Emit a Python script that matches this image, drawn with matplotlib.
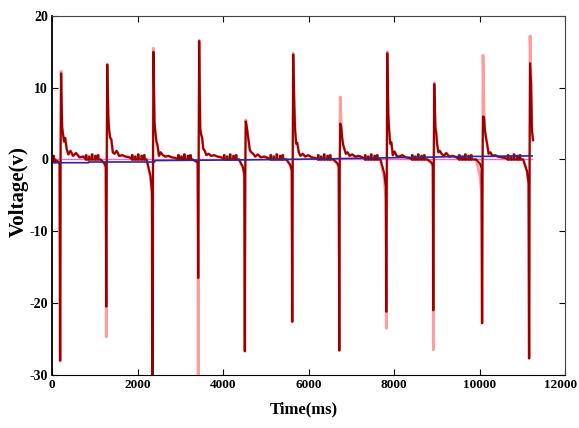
import numpy as np
import matplotlib.pyplot as plt
import matplotlib.transforms as mtrans

plt.rcParams['font.family'] = ['Liberation Serif', 'DejaVu Serif']
plt.rcParams['axes.unicode_minus'] = False  # 눈금에 '-' 사용

# 각 박동(spike) 시각 (ms)
beat_t = [210, 1290, 2370, 3440, 4530, 5640, 6740, 7840, 8940, 10080, 11180]

# 진한 빨강 신호
peak_dark = [12.0, 13.2, 15.0, 16.5, 5.3, 14.6, 5.0, 14.8, 10.5, 6.0, 13.4]
trough_dark = [-28.0, -20.5, -31.0, -16.5, -26.7, -22.6, -26.6, -21.2, -21.0, -22.8, -27.7]
droop_dark = [-0.6, -1.0, -4.5, -0.5, -2.0, -1.5, -1.0, -3.8, -0.8, -1.2, -3.3]

# 연한 분홍 신호
peak_pink = [12.3, 13.3, 15.5, 16.6, 5.5, 14.8, 8.7, 15.0, 10.7, 14.5, 17.2]
trough_pink = [-28.1, -24.7, -31.0, -31.0, -26.7, -22.6, -26.6, -23.5, -26.5, -22.8, -27.7]
droop_pink = [-0.6, -1.2, -5.0, -0.6, -2.2, -1.6, -1.2, -5.5, -1.0, -4.7, -3.5]

# 피크 이후 감쇠 (피크 기준 시간 오프셋 ms)
decay_dt = [25, 45, 70, 95, 130, 170, 220, 280, 350, 430, 520]
decay_v = [
    [4.5, 3.5, 2.5, 3.0, 1.5, 0.7, 1.2, 0.5, 0.9, 0.3, 0.4],
    [6.0, 4.0, 3.0, 2.8, 1.0, 0.8, 1.2, 0.5, 0.6, 0.4, 0.3],
    [5.3, 3.8, 2.5, 2.0, 0.5, 1.0, 0.6, 0.4, 0.5, 0.3, 0.2],
    [4.4, 3.5, 3.0, 1.5, 1.2, 0.6, 0.8, 0.5, 0.6, 0.4, 0.3],
    [4.5, 3.6, 2.5, 1.3, 1.0, 0.8, 0.4, 0.7, 0.3, 0.4, 0.2],
    [7.8, 4.0, 2.2, 2.3, 1.0, 0.5, 0.8, 0.4, 0.6, 0.3, 0.2],
    [4.5, 3.0, 2.0, 1.5, 0.8, 1.0, 0.5, 0.7, 0.4, 0.5, 0.3],
    [6.2, 4.0, 2.2, 2.4, 0.6, 1.1, 0.5, 0.4, 0.6, 0.3, 0.2],
    [4.5, 3.7, 2.0, 1.0, 1.2, 0.8, 0.5, 0.9, 0.4, 0.5, 0.3],
    [5.9, 4.0, 3.0, 2.2, 0.8, 1.0, 0.5, 0.6, 0.4, 0.3, 0.2],
    [10.5, 4.0, 2.7],
]

# 기저선의 작은 잡음
blip_dt = [580, 650, 720, 800, 860]
blip_v = [0.6, 0.4, 0.7, 0.5, 0.6]

# 파란 기준선
blue_t = [0, 850, 850, 2400, 2400, 4600, 6000, 8000, 9500, 11230]
blue_v = [-0.45, -0.45, -0.35, -0.35, -0.15, -0.05, 0.05, 0.25, 0.4, 0.5]


def build(peaks, troughs, droops):
    t, v = [0, 40, 55, 60], [0.5, 0.5, -0.4, 0.0]
    for i, T in enumerate(beat_t):
        t += [T - 160, T - 70, T - 35, T - 22, T - 12, T]
        v += [0.0, droops[i] * 0.5, droops[i], troughs[i], droops[i], peaks[i]]
        d = decay_v[i]
        t += [T + dt for dt in decay_dt[:len(d)]]
        v += d
        if i < len(beat_t) - 1:
            for bt, bv in zip(blip_dt, blip_v):
                t += [T + bt, T + bt, T + bt + 12, T + bt + 12]
                v += [0.0, bv, bv, 0.0]
    return t, v


fig = plt.figure(figsize=(5.79, 4.28), dpi=100)
ax = fig.add_axes([0.09, 0.124, 0.886, 0.839])

tp, vp = build(peak_pink, trough_pink, droop_pink)
ax.plot(tp, vp, color='#ff9c9c', lw=2.0)
ax.plot([0, 11230], [0, 0], color='#ff66cc', lw=1.0)
td, vd = build(peak_dark, trough_dark, droop_dark)
ax.plot(td, vd, color='#990000', lw=1.5)
ax.plot(blue_t, blue_v, color='#2a2a90', lw=1.2)

ax.set_xlim(0, 12000)
ax.set_ylim(-30, 20)
ax.set_xticks(range(0, 12001, 2000))
ax.set_yticks(range(-30, 21, 10))
ax.tick_params(direction='in', top=True, right=True, length=4, labelsize=10, pad=3)
ax.tick_params(axis='x', labelsize=9.5)
for lab in ax.get_xticklabels() + ax.get_yticklabels():
    lab.set_fontweight('bold')
# 마지막 눈금 라벨이 잘리지 않게 약간 왼쪽으로
last = ax.get_xticklabels()[-1]
last.set_transform(last.get_transform() + mtrans.ScaledTranslation(-0.05, 0, fig.dpi_scale_trans))
for s in ax.spines.values():
    s.set_color('#444444')
ax.spines['left'].set_color('black')
ax.spines['left'].set_linewidth(1.3)
ax.spines['bottom'].set_color('black')

ax.set_xlabel('Time(ms)', fontsize=12, fontweight='bold')
ax.set_ylabel('Voltage(v)', fontsize=15, fontweight='bold')
ax.xaxis.set_label_coords(0.49, -0.075)
ax.yaxis.set_label_coords(-0.045, 0.51)

fig.savefig('out.png')
